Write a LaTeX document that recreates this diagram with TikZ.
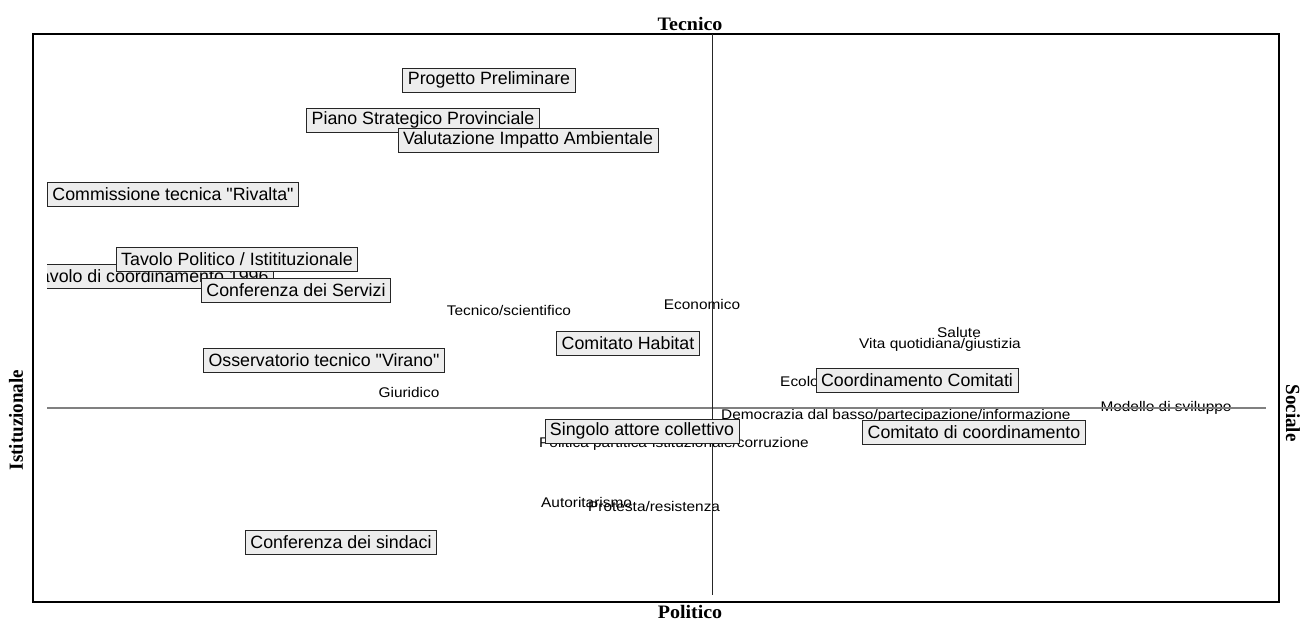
\documentclass[tikz,border=0pt]{standalone}
\usepackage{fontspec}
% families declared without the TeX ligature mapping, so " stays straight
\newfontfamily\labelfont{Liberation Sans}
\newfontfamily\axisfont{Liberation Serif}
\begin{document}
\begin{tikzpicture}[x=1pt,y=-1pt,
  itembox/.style={draw=black!85, line width=0.9pt, fill=black!7, inner xsep=5pt, inner ysep=0pt,
    minimum height=24pt, font=\labelfont\fontsize{17.8}{19}\selectfont},
  termtext/.style={inner sep=0pt, font=\labelfont\fontsize{14}{15}\selectfont, xscale=1.1},
  axislabel/.style={inner sep=0pt, font=\axisfont\bfseries\fontsize{20}{22}\selectfont, yscale=0.95}]
\useasboundingbox (0,0) rectangle (1309,621);
% plot frame
\draw[line width=1.3pt] (33,34) rectangle (1279,602);
% axis titles
\node[axislabel] (tec) at (690,24) {Tecnico};
\node[axislabel] (pol) at (690,612) {Politico};
\node[axislabel, rotate=90] (ist) at (16,420) {Istituzionale};
\node[axislabel, rotate=-90] (soc) at (1293,413) {Sociale};
% category terms
\node[termtext] (t1) at (509,310) {Tecnico/scientifico};
\node[termtext] (t2) at (702,304) {Economico};
\node[termtext] (t3) at (959,332) {Salute};
\node[termtext] (t4) at (940,345) {Vita quotidiana/giustizia};
\node[termtext, anchor=west] (t5) at (780,383) {Ecologia};
\node[termtext] (t6) at (409,392) {Giuridico};
\node[termtext] (t7) at (1166,408) {Modello di sviluppo};
\node[termtext, anchor=west] (t8) at (721,416) {Democrazia dal basso/partecipazione/informazione};
\node[termtext, anchor=west] (t9) at (539,444) {Politica partitica-istituzionale/corruzione};
\node[termtext, anchor=west] (t10) at (541,502) {Autoritarismo};
\node[termtext, anchor=west] (t11) at (588,506) {Protesta/resistenza};
% axes through the origin
\coordinate (hl) at (47,408);
\coordinate (hr) at (1266,408);
\coordinate (vt) at (712,34);
\coordinate (vb) at (712,595);
\draw[line width=1.2pt, black!50] (hl) -- (hr);
\draw[line width=0.9pt, black!85] (vt) -- (vb);
% actors
\begin{scope}
  \clip (47,34) rectangle (1279,602);
  \node[itembox, anchor=east] (b0) at (274,276) {Tavolo di coordinamento 1996};
\end{scope}
\node[itembox] (b1) at (489,80) {Progetto Preliminare};
\node[itembox] (b2) at (423,120) {Piano Strategico Provinciale};
\node[itembox] (b3) at (528,140) {Valutazione Impatto Ambientale};
\node[itembox] (b4) at (173,194) {Commissione tecnica "Rivalta"};
\node[itembox] (b5) at (237,259) {Tavolo Politico / Istitituzionale};
\node[itembox] (b6) at (296,290) {Conferenza dei Servizi};
\node[itembox] (b7) at (324,360) {Osservatorio tecnico "Virano"};
\node[itembox] (b8) at (628,343) {Comitato Habitat};
\node[itembox] (b9) at (917,380) {Coordinamento Comitati};
\node[itembox] (b10) at (974,432) {Comitato di coordinamento};
\node[itembox] (b11) at (642,431) {Singolo attore collettivo};
\node[itembox] (b12) at (341,542) {Conferenza dei sindaci};
\end{tikzpicture}
\end{document}
